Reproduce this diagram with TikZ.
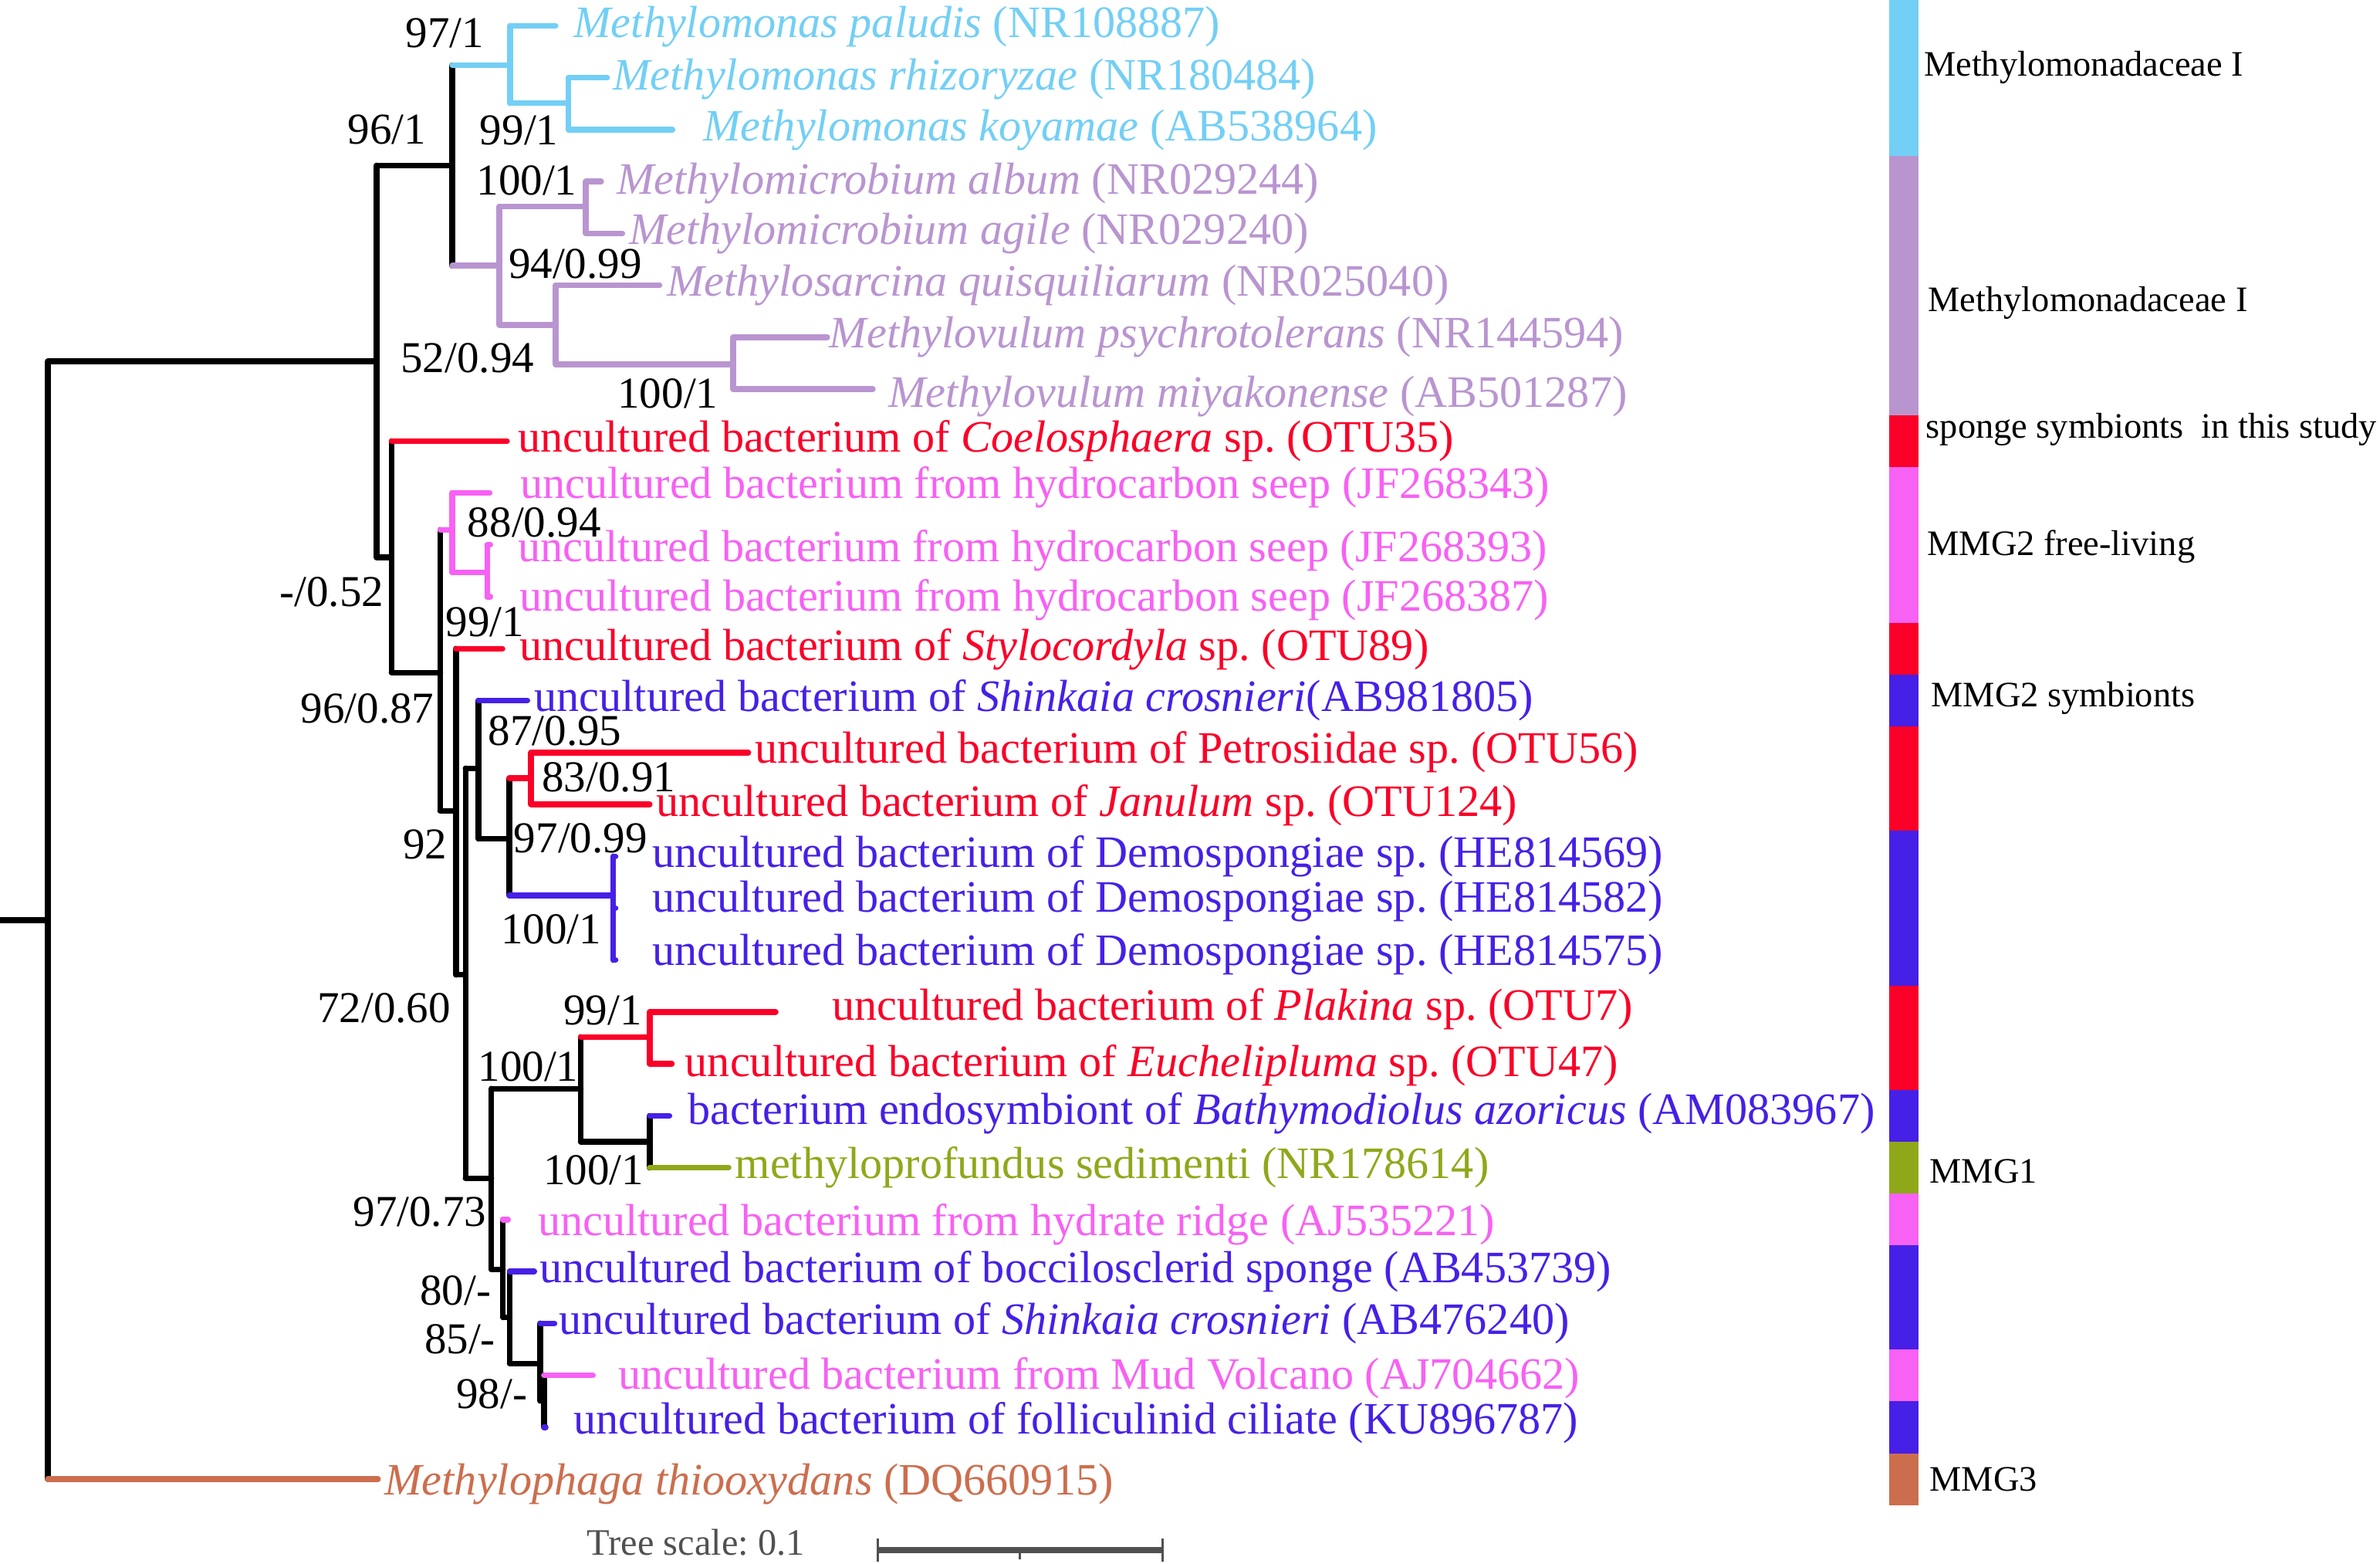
\documentclass[tikz,border=0pt]{standalone}
\usepackage{fontspec}
\setmainfont{Liberation Serif}
\usepackage{tikz}

\definecolor{mlblue}{RGB}{115,207,245}
\definecolor{mpurple}{RGB}{185,149,208}
\definecolor{sred}{RGB}{250,0,40}
\definecolor{fpink}{RGB}{247,97,244}
\definecolor{sblue}{RGB}{70,32,230}
\definecolor{mgreen}{RGB}{143,168,26}
\definecolor{mbrown}{RGB}{204,110,78}
\definecolor{scalegray}{RGB}{80,80,80}

\tikzset{
  branch/.style={line width=1.9pt, line cap=round},
  leaf/.style={anchor=base west, inner sep=0pt, font=\fontsize{14.8}{17}\selectfont},
  boot/.style={inner sep=0pt, font=\fontsize{14.5}{17}\selectfont},
  group/.style={anchor=base west, inner sep=0pt, font=\fontsize{11.8}{14}\selectfont},
}

\begin{document}
\frenchspacing
\begin{tikzpicture}[x=0.5pt,y=-0.5pt]
   \useasboundingbox (0,0) rectangle (1568,1030);

   % internal nodes
   \coordinate (base) at (0,606);
   \coordinate (root) at (31.5,606);
   \coordinate (n1)   at (248,238);
   \coordinate (nA)   at (298,109);
   \coordinate (nMo)  at (336,43);
   \coordinate (nMo2) at (374.5,68);
   \coordinate (nMi)  at (329,175);
   \coordinate (nMc)  at (386,136);
   \coordinate (nMs)  at (366,214);
   \coordinate (nMv)  at (483,240);
   \coordinate (n2)   at (258,367);
   \coordinate (n3)   at (290,443);
   \coordinate (nPk)  at (298,349);
   \coordinate (nPk2) at (321,377);
   \coordinate (n4)   at (300.4,534);
   \coordinate (n5)   at (306.7,642);
   \coordinate (n6)   at (315.2,506);
   \coordinate (n7)   at (335.5,552.4);
   \coordinate (nRd)  at (349.9,512.6);
   \coordinate (nDm)  at (404,589.7);
   \coordinate (n8)   at (323.7,776);
   \coordinate (n9)   at (382.6,717);
   \coordinate (nPl)  at (428,683);
   \coordinate (nBt)  at (428,752);
   \coordinate (n10)  at (331.3,836);
   \coordinate (n11)  at (335.8,867.6);
   \coordinate (n12)  at (355.9,898);
   \coordinate (n13)  at (358.4,922.6);

   % leaf tips
   \coordinate (t1)  at (366,17);
   \coordinate (t2)  at (400,51.2);
   \coordinate (t3)  at (443,85.4);
   \coordinate (t4)  at (396,119.5);
   \coordinate (t5)  at (410,153.7);
   \coordinate (t6)  at (434.5,187.9);
   \coordinate (t7)  at (545,222.1);
   \coordinate (t8)  at (575,256.3);
   \coordinate (t9)  at (334,290.5);
   \coordinate (t10) at (322.6,324.6);
   \coordinate (t11) at (323,358.8);
   \coordinate (t12) at (323,393);
   \coordinate (t13) at (331,427.2);
   \coordinate (t14) at (347.4,461.4);
   \coordinate (t15) at (493,495.6);
   \coordinate (t16) at (428,529.8);
   \coordinate (t17) at (405.5,564);
   \coordinate (t18) at (405.5,598.1);
   \coordinate (t19) at (405.5,632.3);
   \coordinate (t20) at (511,666.5);
   \coordinate (t21) at (442.6,700.7);
   \coordinate (t22) at (441,734.9);
   \coordinate (t23) at (480,769.1);
   \coordinate (t24) at (334.7,803.3);
   \coordinate (t25) at (352,837.4);
   \coordinate (t26) at (365.3,871.6);
   \coordinate (t27) at (390.6,905.8);
   \coordinate (t28) at (359.5,940);
   \coordinate (t29) at (249,974.2);

   % branches
   \draw[branch] (base) -- (root);
   \draw[branch] (root|-n1) -- (root|-t29) (root|-n1) -- (n1);
   \draw[branch, mbrown] (root|-t29) -- (t29);
   \draw[branch] (n1|-nA) -- (n1|-n2) (n1|-nA) -- (nA) (n1|-n2) -- (n2);
   \draw[branch] (nA|-nMo) -- (nA|-nMi);
   \draw[branch, mlblue] (nA|-nMo) -- (nMo);
   \draw[branch, mlblue] (nMo|-t1) -- (nMo|-nMo2) (nMo|-t1) -- (t1) (nMo|-nMo2) -- (nMo2);
   \draw[branch, mlblue] (nMo2|-t2) -- (nMo2|-t3) (nMo2|-t2) -- (t2) (nMo2|-t3) -- (t3);
   \draw[branch, mpurple] (nA|-nMi) -- (nMi);
   \draw[branch, mpurple] (nMi|-nMc) -- (nMi|-nMs) (nMi|-nMc) -- (nMc) (nMi|-nMs) -- (nMs);
   \draw[branch, mpurple] (nMc|-t4) -- (nMc|-t5) (nMc|-t4) -- (t4) (nMc|-t5) -- (t5);
   \draw[branch, mpurple] (nMs|-t6) -- (nMs|-nMv) (nMs|-t6) -- (t6) (nMs|-nMv) -- (nMv);
   \draw[branch, mpurple] (nMv|-t7) -- (nMv|-t8) (nMv|-t7) -- (t7) (nMv|-t8) -- (t8);
   \draw[branch] (n2|-t9) -- (n2|-n3) (n2|-n3) -- (n3);
   \draw[branch, sred] (n2|-t9) -- (t9);
   \draw[branch] (n3|-nPk) -- (n3|-n4) (n3|-n4) -- (n4);
   \draw[branch, fpink] (n3|-nPk) -- (nPk);
   \draw[branch, fpink] (nPk|-t10) -- (nPk|-nPk2) (nPk|-t10) -- (t10) (nPk|-nPk2) -- (nPk2);
   \draw[branch, fpink] (nPk2|-t11) -- (nPk2|-t12) (nPk2|-t11) -- (t11) (nPk2|-t12) -- (t12);
   \draw[branch] (n4|-t13) -- (n4|-n5) (n4|-n5) -- (n5);
   \draw[branch, sred] (n4|-t13) -- (t13);
   \draw[branch] (n5|-n6) -- (n5|-n8) (n5|-n6) -- (n6) (n5|-n8) -- (n8);
   \draw[branch] (n6|-t14) -- (n6|-n7) (n6|-n7) -- (n7);
   \draw[branch, sblue] (n6|-t14) -- (t14);
   \draw[branch] (n7|-nRd) -- (n7|-nDm);
   \draw[branch, sred] (n7|-nRd) -- (nRd);
   \draw[branch, sred] (nRd|-t15) -- (nRd|-t16) (nRd|-t15) -- (t15) (nRd|-t16) -- (t16);
   \draw[branch, sblue] (n7|-nDm) -- (nDm);
   \draw[branch, sblue] (nDm|-t17) -- (nDm|-t19) (nDm|-t17) -- (t17) (nDm|-t18) -- (t18) (nDm|-t19) -- (t19);
   \draw[branch] (n8|-n9) -- (n8|-n10) (n8|-n9) -- (n9) (n8|-n10) -- (n10);
   \draw[branch] (n9|-nPl) -- (n9|-nBt) (n9|-nBt) -- (nBt);
   \draw[branch, sred] (n9|-nPl) -- (nPl);
   \draw[branch, sred] (nPl|-t20) -- (nPl|-t21) (nPl|-t20) -- (t20) (nPl|-t21) -- (t21);
   \draw[branch] (nBt|-t22) -- (nBt|-t23);
   \draw[branch, sblue] (nBt|-t22) -- (t22);
   \draw[branch, mgreen] (nBt|-t23) -- (t23);
   \draw[branch] (n10|-t24) -- (n10|-n11) (n10|-n11) -- (n11);
   \draw[branch, fpink] (n10|-t24) -- (t24);
   \draw[branch] (n11|-t25) -- (n11|-n12) (n11|-n12) -- (n12);
   \draw[branch, sblue] (n11|-t25) -- (t25);
   \draw[branch] (n12|-t26) -- (n12|-n13) (n12|-n13) -- (n13);
   \draw[branch, sblue] (n12|-t26) -- (t26);
   \draw[branch] (n13|-t27) -- (n13|-t28);
   \draw[branch, fpink] (n13|-t27) -- (t27);
   \draw[branch, sblue] (n13|-t28) -- (t28);

   % leaf labels
   \node[leaf, mlblue]  (L1)  at (377.6,24.5) {\textit{Methylomonas paludis} (NR108887)};
   \node[leaf, mlblue]  (L2)  at (403.5,59)   {\textit{Methylomonas rhizoryzae} (NR180484)};
   \node[leaf, mlblue]  (L3)  at (463,93)     {\textit{Methylomonas koyamae} (AB538964)};
   \node[leaf, mpurple] (L4)  at (406,128)    {\textit{Methylomicrobium album} (NR029244)};
   \node[leaf, mpurple] (L5)  at (414,161)    {\textit{Methylomicrobium agile} (NR029240)};
   \node[leaf, mpurple] (L6)  at (439,195)    {\textit{Methylosarcina quisquiliarum} (NR025040)};
   \node[leaf, mpurple] (L7)  at (546,229)    {\textit{Methylovulum psychrotolerans} (NR144594)};
   \node[leaf, mpurple] (L8)  at (585,268)    {\textit{Methylovulum miyakonense} (AB501287)};
   \node[leaf, sred]    (L9)  at (341,297.7)  {uncultured bacterium of \textit{Coelosphaera} sp. (OTU35)};
   \node[leaf, fpink]   (L10) at (342.3,328)  {uncultured bacterium from hydrocarbon seep (JF268343)};
   \node[leaf, fpink]   (L11) at (341,369.8)  {uncultured bacterium from hydrocarbon seep (JF268393)};
   \node[leaf, fpink]   (L12) at (342,402.5)  {uncultured bacterium from hydrocarbon seep (JF268387)};
   \node[leaf, sred]    (L13) at (342,435)    {uncultured bacterium of \textit{Stylocordyla} sp. (OTU89)};
   \node[leaf, sblue]   (L14) at (351.7,468.4) {uncultured bacterium of \textit{Shinkaia crosnieri}(AB981805)};
   \node[leaf, sred]    (L15) at (497,502.4)  {uncultured bacterium of Petrosiidae sp. (OTU56)};
   \node[leaf, sred]    (L16) at (432,537.7)  {uncultured bacterium of \textit{Janulum} sp. (OTU124)};
   \node[leaf, sblue]   (L17) at (429.5,571)  {uncultured bacterium of Demospongiae sp. (HE814569)};
   \node[leaf, sblue]   (L18) at (429.5,600.7) {uncultured bacterium of Demospongiae sp. (HE814582)};
   \node[leaf, sblue]   (L19) at (429.5,635.8) {uncultured bacterium of Demospongiae sp. (HE814575)};
   \node[leaf, sred]    (L20) at (547.7,672)  {uncultured bacterium of \textit{Plakina} sp. (OTU7)};
   \node[leaf, sred]    (L21) at (451,708.8)  {uncultured bacterium of \textit{Euchelipluma} sp. (OTU47)};
   \node[leaf, sblue]   (L22) at (453,740.5)  {bacterium endosymbiont of \textit{Bathymodiolus azoricus} (AM083967)};
   \node[leaf, mgreen]  (L23) at (484,776)    {methyloprofundus sedimenti (NR178614)};
   \node[leaf, fpink]   (L24) at (354,813.5)  {uncultured bacterium from hydrate ridge (AJ535221)};
   \node[leaf, sblue]   (L25) at (355,844.7)  {uncultured bacterium of boccilosclerid sponge (AB453739)};
   \node[leaf, sblue]   (L26) at (368,879)    {uncultured bacterium of \textit{Shinkaia crosnieri} (AB476240)};
   \node[leaf, fpink]   (L27) at (407,915)    {uncultured bacterium from Mud Volcano (AJ704662)};
   \node[leaf, sblue]   (L28) at (377.6,944.4) {uncultured bacterium of folliculinid ciliate (KU896787)};
   \node[leaf, mbrown]  (L29) at (253,984.5)  {\textit{Methylophaga thiooxydans} (DQ660915)};

   % support values
   \node[boot] (b1)  at (293,21.6)  {97/1};
   \node[boot] (b2)  at (255,85.5)  {96/1};
   \node[boot] (b3)  at (342,86)    {99/1};
   \node[boot] (b4)  at (347,119)   {100/1};
   \node[boot] (b5)  at (379,174)   {94/0.99};
   \node[boot] (b6)  at (308,236)   {52/0.94};
   \node[boot] (b7)  at (440,259)   {100/1};
   \node[boot] (b8)  at (352,344.4) {88/0.94};
   \node[boot] (b9)  at (218.5,390) {-/0.52};
   \node[boot] (b10) at (319.5,409.7) {99/1};
   \node[boot] (b11) at (242,466.8) {96/0.87};
   \node[boot] (b12) at (365.6,481.5) {87/0.95};
   \node[boot] (b13) at (401,512)   {83/0.91};
   \node[boot] (b14) at (280,556)   {92};
   \node[boot] (b15) at (382.5,552) {97/0.99};
   \node[boot] (b16) at (363,612)   {100/1};
   \node[boot] (b17) at (253,664)   {72/0.60};
   \node[boot] (b18) at (397,665.6) {99/1};
   \node[boot] (b19) at (348,702.4) {100/1};
   \node[boot] (b20) at (391,770.5) {100/1};
   \node[boot] (b21) at (276.5,798) {97/0.73};
   \node[boot] (b22) at (300,850)   {80/-};
   \node[boot] (b23) at (303,882)   {85/-};
   \node[boot] (b24) at (324,918)   {98/-};

   % colour strip
   \fill[mlblue]  (1244.5,0)     rectangle (1264,102.5);
   \fill[mpurple] (1244.5,102.5) rectangle (1264,273.4);
   \fill[sred]    (1244.5,273.4) rectangle (1264,307.6);
   \fill[fpink]   (1244.5,307.6) rectangle (1264,410.2);
   \fill[sred]    (1244.5,410.2) rectangle (1264,444.3);
   \fill[sblue]   (1244.5,444.3) rectangle (1264,478.5);
   \fill[sred]    (1244.5,478.5) rectangle (1264,546.9);
   \fill[sblue]   (1244.5,546.9) rectangle (1264,649.4);
   \fill[sred]    (1244.5,649.4) rectangle (1264,717.8);
   \fill[sblue]   (1244.5,717.8) rectangle (1264,752);
   \fill[mgreen]  (1244.5,752)   rectangle (1264,786.1);
   \fill[fpink]   (1244.5,786.1) rectangle (1264,820.3);
   \fill[sblue]   (1244.5,820.3) rectangle (1264,888.7);
   \fill[fpink]   (1244.5,888.7) rectangle (1264,922.9);
   \fill[sblue]   (1244.5,922.9) rectangle (1264,957.1);
   \fill[mbrown]  (1244.5,957.1) rectangle (1264,991.2);

   % group names
   \node[group] (g1) at (1267.2,50.3)  {Methylomonadaceae I};
   \node[group] (g2) at (1270,204.9)   {Methylomonadaceae I};
   \node[group] (g3) at (1268.5,288.6) {sponge symbionts \ in this study};
   \node[group] (g4) at (1269.4,365.7) {MMG2 free-living};
   \node[group] (g5) at (1272,465.3)   {MMG2 symbionts};
   \node[group] (g6) at (1271,779.3)   {MMG1};
   \node[group] (g7) at (1271,982)     {MMG3};

   % scale bar
   \coordinate (sbL) at (578.3,1021);
   \coordinate (sbM) at (672,1021);
   \coordinate (sbR) at (766,1021);
   \node[anchor=base west, inner sep=0pt, scalegray, font=\fontsize{12.3}{14}\selectfont] (scale) at (386.4,1024.4) {Tree scale: 0.1};
   \draw[scalegray, line width=2.1pt] (sbL) -- (sbR);
   \draw[scalegray, line width=0.7pt] ([yshift=3.85pt]sbL) -- ([yshift=-3.8pt]sbL);
   \draw[scalegray, line width=0.7pt] ([yshift=3.85pt]sbR) -- ([yshift=-3.8pt]sbR);
   \draw[scalegray, line width=0.7pt] (sbM) -- ([yshift=-3pt]sbM);
\end{tikzpicture}
\end{document}
